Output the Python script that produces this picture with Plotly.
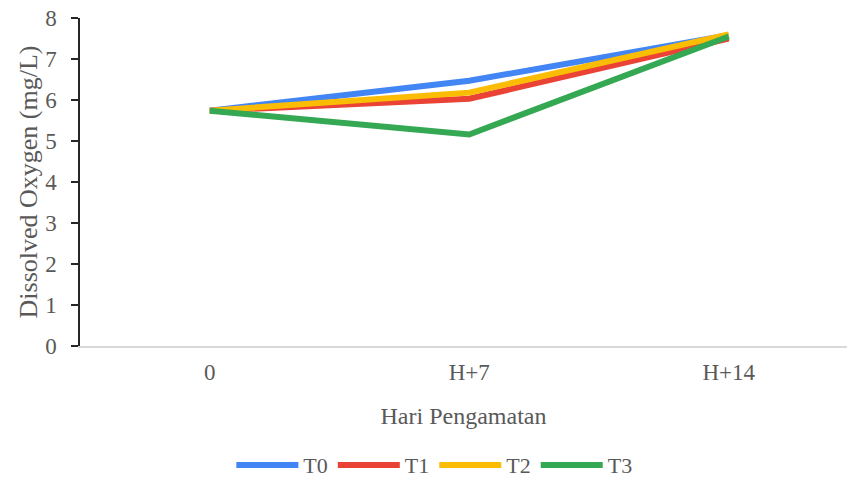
import plotly.graph_objects as go

categories = ["0", "H+7", "H+14"]
series_names = ["T0", "T1", "T2", "T3"]
t0 = [5.74, 6.47, 7.58]
t1 = [5.74, 6.03, 7.50]
t2 = [5.74, 6.18, 7.60]
t3 = [5.74, 5.16, 7.55]
colors = ["#4285F4", "#EA4335", "#FBBC04", "#34A853"]
y_ticks = [0, 1, 2, 3, 4, 5, 6, 7, 8]

fig = go.Figure()
for name, vals, c in zip(series_names, [t0, t1, t2, t3], colors):
    fig.add_trace(go.Scatter(x=categories, y=vals, name=name, mode="lines",
                             line=dict(color=c, width=6)))

font = "Liberation Serif"
txt = "#595959"
fig.update_layout(
    width=847, height=477,
    margin=dict(l=80, r=0, t=18, b=131),
    paper_bgcolor="white", plot_bgcolor="white",
    font=dict(family=font, size=22, color=txt),
    showlegend=True,
    legend=dict(orientation="h", x=0.462, xanchor="center",
                yref="container", y=0.025, yanchor="middle",
                font=dict(family=font, size=22, color=txt), itemwidth=62, tracegroupgap=0),
    xaxis=dict(type="category", range=[-0.5, 2.456], showgrid=False, automargin=False,
               showline=True, linecolor="#d9d9d9", linewidth=1.5, ticks="",
               ticklabelstandoff=5,
               zeroline=False, tickfont=dict(family=font, size=23, color=txt),
               title=dict(text="Hari Pengamatan", standoff=23, font=dict(family=font, size=24, color=txt))),
    yaxis=dict(range=[0, 8], tickvals=y_ticks, showgrid=False, zeroline=False, automargin=False,
               showline=True, linecolor="#262626", linewidth=1.5,
               ticks="outside", ticklen=7, tickcolor="#262626", tickwidth=1.5,
               ticklabelstandoff=10,
               tickfont=dict(family=font, size=23, color=txt),
               title=dict(text="Dissolved Oxygen (mg/L)", standoff=0, font=dict(family=font, size=26, color=txt))),
)
post = (
    "var h=document.documentElement,b=document.body;"
    "h.style.margin='0';h.style.padding='0';h.style.overflow='hidden';h.style.height='477px';"
    "b.style.margin='0';b.style.padding='0';b.style.overflow='hidden';b.style.height='477px';"
)
fig.write_html("out.html", config={"displayModeBar": False}, post_script=post)
